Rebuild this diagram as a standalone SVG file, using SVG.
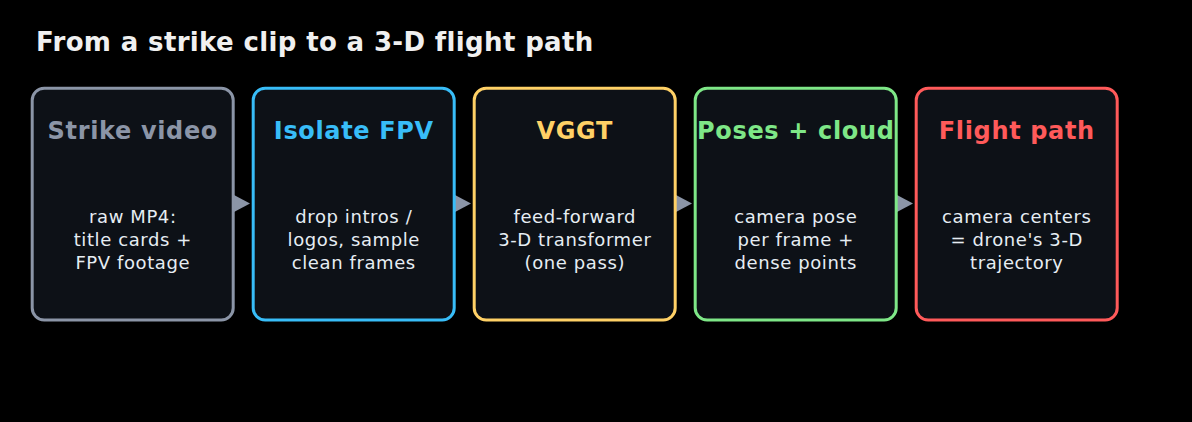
<svg xmlns="http://www.w3.org/2000/svg" width="1192" height="422" viewBox="0 0 1192 422">
<style>
.box{fill:#0d1117;stroke-width:3}
.t{font-family:"DejaVu Sans",sans-serif;font-weight:bold;font-size:24px;letter-spacing:0.65px;text-anchor:middle}
.b{font-family:"DejaVu Sans",sans-serif;font-size:18px;letter-spacing:0.6px;fill:#e6edf3;text-anchor:middle}
.arr{fill:#8b95a7}
</style>
<rect width="1192" height="422" fill="#000"/>
<text x="36" y="51" font-family="DejaVu Sans, sans-serif" font-weight="bold" font-size="26" letter-spacing="0.36" fill="#f0f0f0">From a strike clip to a 3-D flight path</text>
<g id="connectors">
<polygon class="arr" points="234,195 250,203.5 234,212"/>
<polygon class="arr" points="455,195 471,203.5 455,212"/>
<polygon class="arr" points="676,195 692,203.5 676,212"/>
<polygon class="arr" points="897,195 913,203.5 897,212"/>
</g>
<g id="n1">
<rect class="box" x="32.2" y="88.2" width="201" height="231.8" rx="12" stroke="#8b95a7"/>
<text class="t" x="132.8" y="139" fill="#8b95a7">Strike video</text>
<text class="b" x="132.8" y="223">raw MP4:</text>
<text class="b" x="132.8" y="246">title cards +</text>
<text class="b" x="132.8" y="269">FPV footage</text>
</g>
<g id="n2">
<rect class="box" x="253.2" y="88.2" width="201" height="231.8" rx="12" stroke="#38bdf8"/>
<text class="t" x="353.8" y="139" fill="#38bdf8">Isolate FPV</text>
<text class="b" x="353.8" y="223">drop intros /</text>
<text class="b" x="353.8" y="246">logos, sample</text>
<text class="b" x="353.8" y="269">clean frames</text>
</g>
<g id="n3">
<rect class="box" x="474.2" y="88.2" width="201" height="231.8" rx="12" stroke="#ffd166"/>
<text class="t" x="574.8" y="139" fill="#ffd166">VGGT</text>
<text class="b" x="574.8" y="223">feed-forward</text>
<text class="b" x="574.8" y="246">3-D transformer</text>
<text class="b" x="574.8" y="269">(one pass)</text>
</g>
<g id="n4">
<rect class="box" x="695.2" y="88.2" width="201" height="231.8" rx="12" stroke="#7ee787"/>
<text class="t" x="795.8" y="139" fill="#7ee787">Poses + cloud</text>
<text class="b" x="795.8" y="223">camera pose</text>
<text class="b" x="795.8" y="246">per frame +</text>
<text class="b" x="795.8" y="269">dense points</text>
</g>
<g id="n5">
<rect class="box" x="916.2" y="88.2" width="201" height="231.8" rx="12" stroke="#ff5a5a"/>
<text class="t" x="1016.8" y="139" fill="#ff5a5a">Flight path</text>
<text class="b" x="1016.8" y="223">camera centers</text>
<text class="b" x="1016.8" y="246">= drone's 3-D</text>
<text class="b" x="1016.8" y="269">trajectory</text>
</g>
</svg>
